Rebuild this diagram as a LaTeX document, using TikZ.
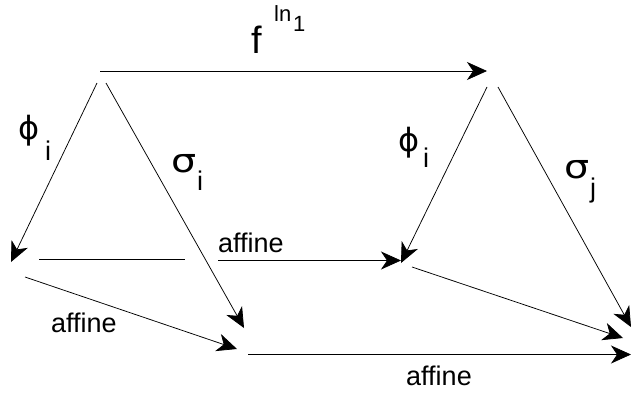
\documentclass[tikz,border=0pt]{standalone}
\usepackage{fontspec}
\setmainfont{Liberation Sans}
\newfontfamily\grk{DejaVu Sans}
\usetikzlibrary{arrows.meta}
\newcommand{\widesig}{\scalebox{1.2}[1]{σ}}

\begin{document}
\begin{tikzpicture}[
  x=1pt, y=-1pt,
  arr/.style={-{Stealth[length=20pt,width=18pt,inset=6pt]}, line width=0.75pt, black},
  bar/.style={line width=0.75pt, black},
  lbl/.style={inner sep=0pt, anchor=base west, font=\fontsize{27}{30}\selectfont},
  glbl/.style={inner sep=0pt, anchor=base west, font=\grk\fontsize{32}{34}\selectfont},
  slbl/.style={inner sep=0pt, anchor=base west, font=\grk\fontsize{33}{34}\selectfont}
]
\useasboundingbox (0,0) rectangle (631,394);

%=== END POINTS ===
\coordinate (topL)  at (100,71);
\coordinate (topR)  at (487,71);
% left triangle
\coordinate (lapxA) at (97,83);
\coordinate (lapxB) at (106,83);
\coordinate (lphi)  at (11,262);
\coordinate (lsig)  at (244,328);
% right triangle
\coordinate (rapxA) at (487,87);
\coordinate (rapxB) at (498,87);
\coordinate (rphi)  at (401,263);
\coordinate (rsig)  at (631,327);
% middle row
\coordinate (mbarL) at (39,259.5);
\coordinate (mbarR) at (185,259.5);
\coordinate (maffL) at (218,260.5);
% lower arrows
\coordinate (llowS) at (25,277);
\coordinate (llowT) at (237,349);
\coordinate (rlowS) at (412,267);
\coordinate (rlowT) at (623,338);
\coordinate (botL)  at (248,354.5);
\coordinate (botR)  at (631,354.5);

%=== LABELS ===
\node[lbl, font=\fontsize{38}{40}\selectfont] (fsym) at (251,53) {f};
\node[lbl, font=\fontsize{22}{24}\selectfont] (lnsym) at (274,21) {ln};
\node[lbl, font=\fontsize{22}{24}\selectfont] (onesym) at (293,31) {1};

\node[glbl] (phiL) at (18,139) {ϕ};
\node[lbl] (phiLi) at (45,160) {i};
\node[slbl] (sigL) at (171,172) {\widesig};
\node[lbl] (sigLi) at (197,190) {i};

\node[glbl] (phiR) at (398,151) {ϕ};
\node[lbl] (phiRi) at (423,167) {i};
\node[slbl] (sigR) at (564,178) {\widesig};
\node[lbl] (sigRj) at (590,197) {j};

\node[lbl] (affM) at (218,252) {affine};
\node[lbl] (affL) at (51,332) {affine};
\node[lbl] (affB) at (406,385) {affine};

%=== ARROWS ===
\draw[arr] (topL) -- (topR);
\draw[arr] (lapxA) -- (lphi);
\draw[arr] (lapxB) -- (lsig);
\draw[arr] (rapxA) -- (rphi);
\draw[arr] (rapxB) -- (rsig);
\draw[bar] (mbarL) -- (mbarR);
\draw[arr] (maffL) -- (rphi |- maffL);
\draw[arr] (llowS) -- (llowT);
\draw[arr] (rlowS) -- (rlowT);
\draw[arr] (botL) -- (botR);

\end{tikzpicture}
\end{document}
